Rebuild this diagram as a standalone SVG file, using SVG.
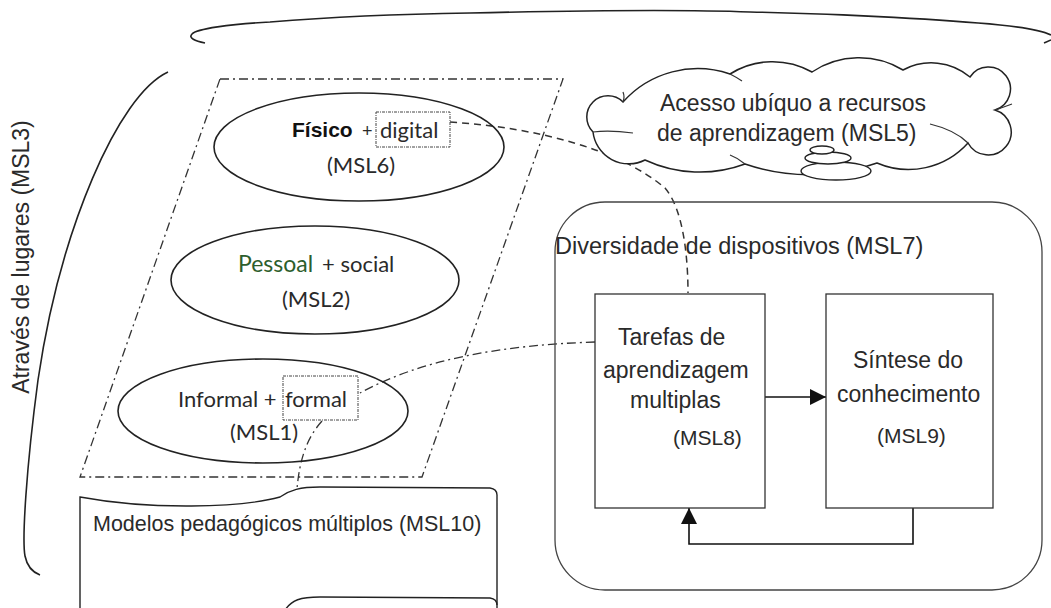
<svg xmlns="http://www.w3.org/2000/svg" width="1051" height="608" viewBox="0 0 1051 608">
<defs>
<style>
.ln{fill:none;stroke:#222;stroke-width:1.6}
.thin{fill:none;stroke:#333;stroke-width:1.2}
.hv{font-family:"Liberation Sans",Arial,sans-serif;fill:#2a2a2a}
.cb{font-family:Lato,"Open Sans",sans-serif;fill:#2a2a2a}
.dd{fill:none;stroke:#333;stroke-width:1.3;stroke-dasharray:9,4,2,4}
.dot{fill:none;stroke:#444;stroke-width:1;stroke-dasharray:3,1,1,1}
</style>
<marker id="ah2" viewBox="0 0 10 10" refX="10" refY="5" markerWidth="16" markerHeight="16" markerUnits="userSpaceOnUse" orient="auto">
<path d="M0,0 L10,5 L0,10 Z" fill="#111"/>
</marker>
</defs>
<rect width="1051" height="608" fill="#fff"/>

<g id="brace-top">
<path class="ln" d="M205,43 C195,41 188,38 192,34 C196,29 230,24 270,22 C330,17 400,14 470,13 C600,10 700,10 750,12 C850,14 950,20 1000,25 C1030,28 1045,32 1051,35"/>
<path class="ln" d="M1044,43 L1051,40"/>
</g>

<g id="brace-left">
<path class="ln" d="M168,72 C118,95 60,230 38,380 C26,470 22,540 25,556 C27,566 32,572 40,575"/>
<text class="hv" font-size="23" text-anchor="middle" transform="translate(29,257) rotate(-90)">Através de lugares (MSL3)</text>
</g>

<g id="connectors">
<path fill="none" stroke="#333" stroke-width="1.5" stroke-dasharray="7,5" d="M450,122 C540,128 620,150 665,188 C684,210 688,260 688,293"/>
<path class="dd" d="M595,342 C500,345 420,360 360,393"/>
<path class="dd" d="M322,421 C305,440 297,465 296,508"/>
<path fill="none" stroke="#111" stroke-width="1.6" marker-end="url(#ah2)" d="M765,397 L826,397"/>
<path fill="none" stroke="#111" stroke-width="1.6" marker-end="url(#ah2)" d="M913,508 L913,544 L689,544 L689,508"/>
</g>

<g id="cloud-msl5">
<path fill="#fff" stroke="#222" stroke-width="1.5" d="M623,102 A100,100 0 0 1 730,74 A80,80 0 0 1 812,72 A85,85 0 0 1 903,70 A60,60 0 0 1 970,77 A22,22 0 1 1 995,110 A23,23 0 1 1 968,143 A80,80 0 0 1 877,163 A200,200 0 0 1 745,164 A130,130 0 0 1 645,160 A36,36 0 0 1 593,132 A21,21 0 0 1 623,102 Z"/>
<path class="thin" d="M593,132 Q610,130 633,133 M623,102 Q625,97 623,92 M730,74 Q736,77 742,81 M968,143 Q955,130 930,124 M995,110 Q1004,107 1012,104 M745,164 Q738,158 730,155"/>
<ellipse cx="836" cy="171" rx="35" ry="9" fill="#fff" stroke="#222" stroke-width="1.4"/>
<ellipse cx="828" cy="158" rx="23" ry="6" fill="#fff" stroke="#222" stroke-width="1.4"/>
<ellipse cx="822" cy="150" rx="12" ry="4" fill="#fff" stroke="#222" stroke-width="1.4"/>
<text class="hv" font-size="23" x="660" y="111">Acesso ubíquo a recursos</text>
<text class="hv" font-size="23" x="657" y="141">de aprendizagem (MSL5)</text>
</g>

<g id="parallelogram">
<path class="dd" d="M220,79 L563,79 L422,477 L80,477 Z"/>
</g>

<g id="msl6">
<ellipse class="ln" cx="359" cy="147" rx="145" ry="54"/>
<text class="hv" font-size="21" font-weight="bold" x="292" y="137" style="fill:#111">Físico</text>
<text class="hv" font-size="18" x="362" y="137">+</text>
<rect class="dot" x="376" y="112" width="74" height="35"/>
<text class="cb" font-size="22" x="380" y="138">digital</text>
<text class="cb" font-size="22" x="327" y="173">(MSL6)</text>
</g>

<g id="msl2">
<ellipse class="ln" cx="315" cy="280" rx="144" ry="54"/>
<text class="cb" font-size="23" x="238" y="272" style="fill:#2d5e2d">Pessoal</text>
<text class="cb" font-size="22" x="322" y="272">+ social</text>
<text class="cb" font-size="22" x="282" y="307">(MSL2)</text>
</g>

<g id="msl1">
<ellipse class="ln" cx="263" cy="411" rx="145" ry="52"/>
<text class="cb" font-size="22" x="178" y="407">Informal +</text>
<rect class="dot" x="283" y="376" width="75" height="44"/>
<text class="cb" font-size="22" x="285" y="407">formal</text>
<text class="cb" font-size="22" x="230" y="440">(MSL1)</text>
</g>

<g id="msl10">
<path fill="#fff" stroke="#222" stroke-width="1.4" d="M80,620 L80,497 C150,510 240,508 280,497 C290,490 300,487 320,487 L490,488 Q497,489 497,495 L497,608"/>
<path fill="none" stroke="#222" stroke-width="1.4" d="M285,610 C292,600 300,597 320,597 L490,598 Q497,599 497,605"/>
<text class="hv" font-size="21.5" x="93" y="531">Modelos pedagógicos múltiplos (MSL10)</text>
</g>

<g id="msl7">
<rect x="555" y="202" width="487" height="388" rx="50" ry="50" fill="none" stroke="#444" stroke-width="1.3"/>
<text class="hv" font-size="23.5" x="555" y="254">Diversidade de dispositivos (MSL7)</text>
</g>

<g id="msl8">
<rect x="595" y="294" width="170" height="214" fill="#fff" stroke="#333" stroke-width="1.3"/>
<text class="hv" font-size="23" x="618" y="345">Tarefas de</text>
<text class="hv" font-size="23" x="603" y="378">aprendizagem</text>
<text class="hv" font-size="23" x="630" y="408">multiplas</text>
<text class="hv" font-size="21" x="673" y="445">(MSL8)</text>
</g>

<g id="msl9">
<rect x="826" y="294" width="167" height="214" fill="#fff" stroke="#333" stroke-width="1.3"/>
<text class="hv" font-size="23" x="853" y="368">Síntese do</text>
<text class="hv" font-size="23" x="837" y="402">conhecimento</text>
<text class="hv" font-size="21" x="877" y="443">(MSL9)</text>
</g>
</svg>
